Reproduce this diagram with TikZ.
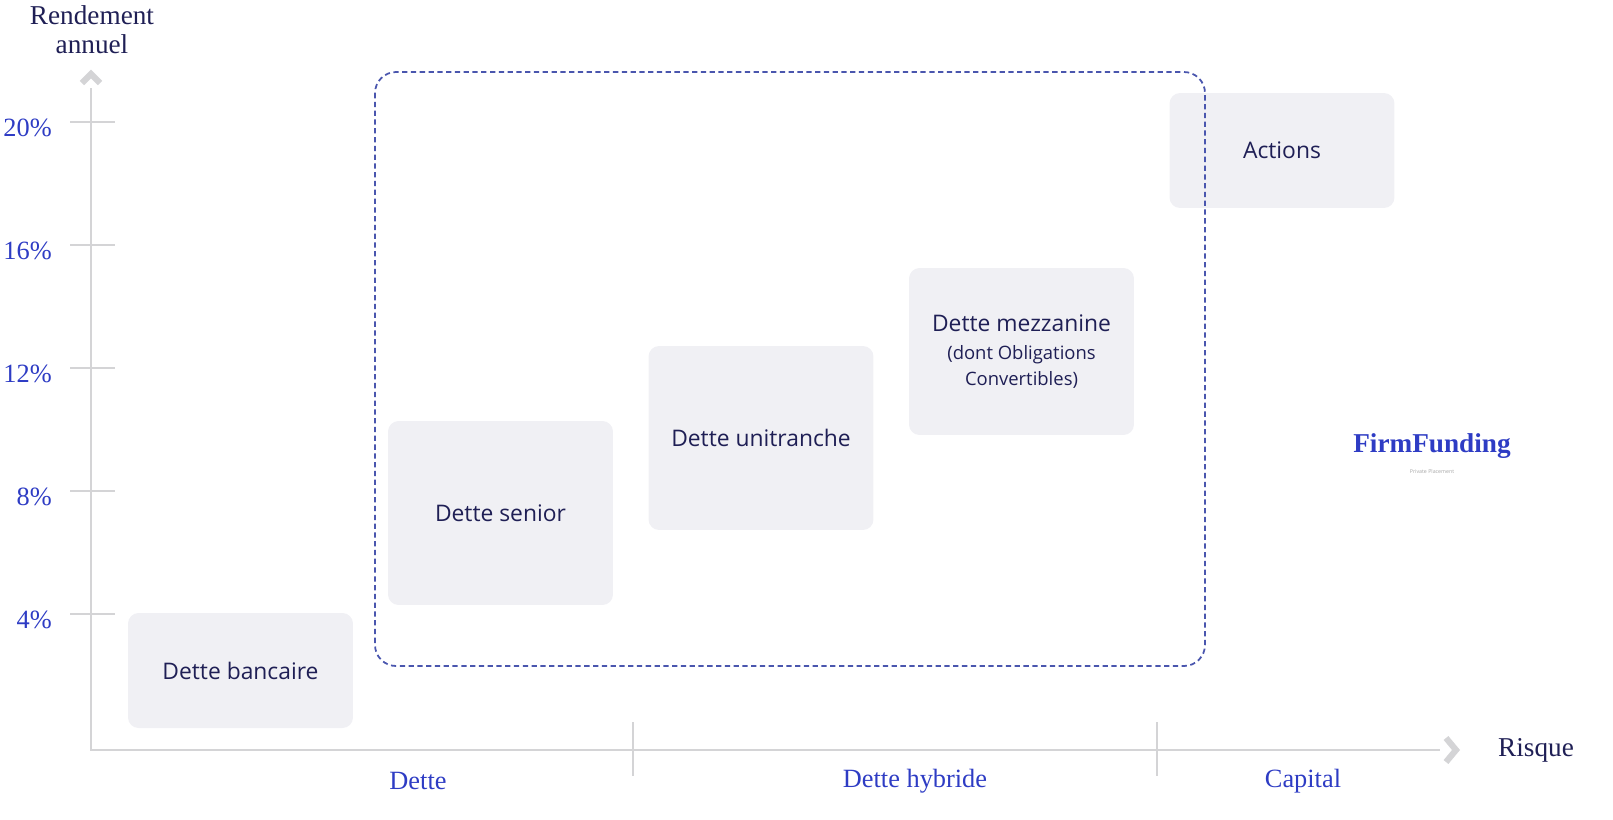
\documentclass[tikz,border=0pt]{standalone}
\usepackage{fontspec}
\setmainfont{Liberation Serif}
\setsansfont{Open Sans}
\usetikzlibrary{positioning}

\definecolor{boxgray}{HTML}{F0F0F4}
\definecolor{axisgray}{HTML}{D4D4D6}
\definecolor{navy}{HTML}{1F1F55}
\definecolor{pctblue}{HTML}{2E3CC4}
\definecolor{dashblue}{HTML}{4A56AE}

\tikzset{
  level/.style={fill=boxgray, rounded corners=6pt, minimum width=4.5cm,
    text=navy, font=\sffamily\fontsize{13}{15}\selectfont, align=center},
  pct/.style={text=pctblue, anchor=east, font=\fontsize{15}{16}\selectfont},
  cat/.style={text=pctblue, font=\fontsize{15}{16}\selectfont},
  axtitle/.style={text=navy, font=\fontsize{15.5}{16.5}\selectfont, align=center},
  axis/.style={axisgray, line width=1.2pt},
  chevron/.style={axisgray, line width=3.5pt}
}

\begin{document}
\begin{tikzpicture}[x=0.02cm, y=-0.02cm]
  \useasboundingbox (0, 0) rectangle (1613, 819);

  % axes
  \coordinate (O) at (91, 750);
  \coordinate (ytop) at (91, 88);
  \coordinate (xend) at (1440, 750);
  \draw[axis] (ytop) -- (O) -- (xend);
  \draw[chevron] (82, 83) -- (91, 74) -- (100, 83);
  \draw[chevron] (1446, 738) -- (1456, 750) -- (1446, 762);

  \node[axtitle, anchor=north, inner sep=0pt] (rdt) at (92, 5) {Rendement\\annuel};
  \node[axtitle, anchor=west] (risk) at (1492, 750) {Risque};

  % y ticks
  \foreach \p/\yy in {20/122, 16/245, 12/368, 8/491, 4/614} {
    \draw[axisgray, line width=0.8pt] (70, \yy) -- (115, \yy);
    \node[pct] (pct\p) at (58, \yy + 6) {\p\%};
  }

  % x separators
  \draw[axisgray, line width=0.8pt] (633, 722) -- (633, 776);
  \draw[axisgray, line width=0.8pt] (1157, 722) -- (1157, 776);
  \node[cat] (dette) at (418, 781) {Dette};
  \node[cat] (hybride) at (915, 781) {Dette hybride};
  \node[cat] (capital) at (1303, 781) {Capital};

  % levels
  \node[level, minimum height=2.3cm] (bancaire) at (240.5, 670.5) {Dette bancaire};
  \node[level, minimum height=3.68cm] (senior) at (500.5, 513) {Dette senior};
  \node[level, minimum height=3.68cm] (unitranche) at (761, 438) {Dette unitranche};
  \node[level, minimum height=3.34cm] (mezzanine) at (1021.5, 351.5)
    {Dette mezzanine\\[1pt]{\fontsize{10.5}{13}\selectfont(dont Obligations}\\[0pt]{\fontsize{10.5}{13}\selectfont Convertibles)}};
  \node[level, minimum height=2.3cm] (actions) at (1282, 150.5) {Actions};

  % debt group
  \draw[dashblue, line width=1pt, dash pattern=on 3pt off 2pt, rounded corners=12pt]
    (375, 72) rectangle (1205, 666);

  % logo
  \node[text=pctblue, font=\bfseries\fontsize{15.5}{15.5}\selectfont] (logo) at (1432, 446) {FirmFunding};
  \node[text=gray!70, font=\sffamily\fontsize{3}{3}\selectfont, below=-1pt of logo] (tagline) {Private Placement};

\end{tikzpicture}
\end{document}
